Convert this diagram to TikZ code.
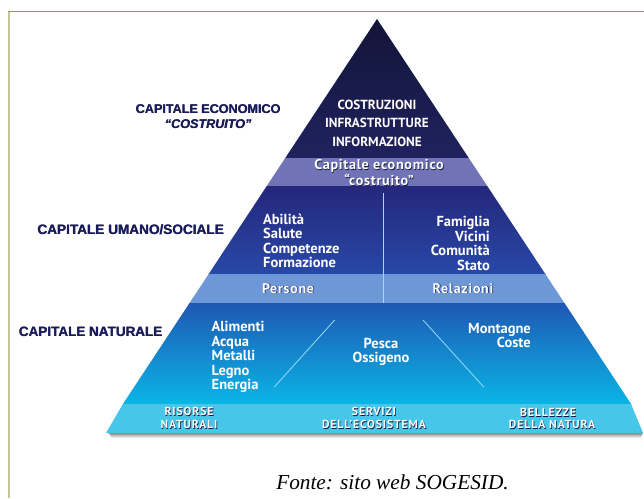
\documentclass[tikz,border=0pt]{standalone}
\usepackage{fontspec}
\setmainfont{Liberation Serif}
\newfontfamily\labelfont{Liberation Sans}
\newfontfamily\pyrfont{PT Sans}
\newfontfamily\pyrspaced[LetterSpace=5]{PT Sans}
\newfontfamily\basefont[LetterSpace=8]{PT Sans}

\definecolor{frameline}{HTML}{9E9760}
\definecolor{frameside}{HTML}{C9C29A}
\definecolor{labelblue}{HTML}{1A1C5A}
\definecolor{topA}{HTML}{121437}
\definecolor{topB}{HTML}{20225F}
\definecolor{bandA}{HTML}{7073B6}
\definecolor{midA}{HTML}{25277A}
\definecolor{midB}{HTML}{2848A8}
\definecolor{bandB}{HTML}{6D97D7}
\definecolor{lowA}{HTML}{1E58B4}
\definecolor{lowB}{HTML}{0AB6E6}
\definecolor{baseband}{HTML}{46C6E9}
\definecolor{embossdark}{HTML}{141A40}
\definecolor{thinline}{HTML}{9ADCF6}

% white text with a small dark drop shadow
\newcommand\embossed[1]{\leavevmode\rlap{\raisebox{-0.7pt}{\hspace{0.7pt}\textcolor{embossdark}{#1}}}#1}
% extra-heavy lettering: the text printed twice, a hair apart
\newcommand\heavy[1]{\leavevmode\rlap{\hspace{0.45pt}#1}#1}

\begin{document}
\begin{tikzpicture}[x=1pt,y=-1pt,
  sidelabel/.style={text=labelblue,inner sep=0pt},
  pyrtext/.style={text=white,inner sep=0pt},
  bandtext/.style={text=white,inner sep=0pt,align=center},
  basetext/.style={text=white,inner sep=0pt,font=\basefont\bfseries\fontsize{11.6}{12}\selectfont},
  divider/.style={draw=thinline,line width=0.8pt}]
\useasboundingbox (0,0) rectangle (644,498);
\fill[white] (0,0) rectangle (644,498);

% page frame
\draw[frameside,line width=2pt] (8.7,11.3) -- (8.7,498);
\draw[frameline,line width=1.3pt] (8,11.3) -- (644,11.3);

% pyramid corners
\coordinate (apex) at (377,19);
\coordinate (bl) at (122.9,404);
\coordinate (br) at (631.1,404);

% shadow under the base band
\shade[top color=black!55,bottom color=white] (108,432) -- (643,432) -- (641,438) -- (112,438) -- cycle;

% pyramid layers
\begin{scope}
  \clip (apex) -- (br) -- (bl) -- cycle;
  \shade[top color=topA,bottom color=topB] (100,15) rectangle (660,158);
  \fill[bandA] (100,158) rectangle (660,186);
  \shade[top color=midA,bottom color=midB] (100,186) rectangle (660,274);
  \fill[bandB] (100,274) rectangle (660,303);
  \shade[top color=lowA,bottom color=lowB] (100,303) rectangle (660,404.5);
\end{scope}

% base band
\fill[baseband] (122.9,404) -- (631.1,404) -- (643,433) -- (106,433) -- cycle;

% dividers
\coordinate (dv1) at (383,192.5);
\coordinate (dv2) at (383,303);
\draw[divider] (dv1) -- (dv2);
\coordinate (dl1) at (334.7,320);
\coordinate (dl2) at (274.3,387);
\coordinate (dr1) at (423,320);
\coordinate (dr2) at (483.8,387);
\draw[divider] (dl1) -- (dl2);
\draw[divider] (dr1) -- (dr2);

% side labels
\node[sidelabel,align=center,font=\labelfont\bfseries\fontsize{12.6}{15}\selectfont] (labecon) at (208,116.5)
  {\heavy{CAPITALE ECONOMICO}\\\itshape\heavy{“COSTRUITO”}};
\node[sidelabel,font=\labelfont\bfseries\fontsize{13.6}{16}\selectfont] (labuman) at (130.5,230) {\heavy{CAPITALE UMANO/SOCIALE}};
\node[sidelabel,font=\labelfont\bfseries\fontsize{13.5}{16}\selectfont] (labnat) at (90.5,332) {\heavy{CAPITALE NATURALE}};

% top layer
\node[pyrtext,align=center,font=\pyrfont\bfseries\fontsize{13.2}{18.5}\selectfont] (costr) at (377,123)
  {COSTRUZIONI\\INFRASTRUTTURE\\INFORMAZIONE};
\node[bandtext,font=\pyrspaced\bfseries\fontsize{14.2}{11.5}\selectfont] (capecon) at (379,173)
  {\embossed{Capitale economico}\\\embossed{“costruito”}};

% human / social layer
\node[pyrtext,align=left,anchor=west,font=\pyrfont\bfseries\fontsize{14.5}{14.5}\selectfont] (abil) at (263,241)
  {Abilità\\Salute\\Competenze\\Formazione};
\node[pyrtext,align=right,anchor=east,font=\pyrfont\bfseries\fontsize{14.5}{14.5}\selectfont] (famil) at (490,243.5)
  {Famiglia\\Vicini\\Comunità\\Stato};
\node[bandtext,font=\pyrspaced\bfseries\fontsize{14}{14}\selectfont] (persone) at (288,288.5) {\embossed{Persone}};
\node[bandtext,font=\pyrspaced\bfseries\fontsize{14}{14}\selectfont] (relaz) at (463,288.5) {\embossed{Relazioni}};

% natural layer
\node[pyrtext,align=left,anchor=west,font=\pyrfont\bfseries\fontsize{14.5}{14.5}\selectfont] (alim) at (211.5,357)
  {Alimenti\\Acqua\\Metalli\\Legno\\Energia};
\node[pyrtext,align=center,font=\pyrfont\bfseries\fontsize{14.5}{14.5}\selectfont] (pesca) at (381,352)
  {Pesca\\Ossigeno};
\node[pyrtext,align=right,anchor=east,font=\pyrfont\bfseries\fontsize{14.5}{14.5}\selectfont] (mont) at (531,335.5)
  {Montagne\\Coste};

% base band: two lines per heading
\node[basetext] (risorseA) at (189,412.2) {\embossed{RISORSE}};
\node[basetext] (risorseB) at (189,424.6) {\embossed{NATURALI}};
\node[basetext] (serviziA) at (374,412.2) {\embossed{SERVIZI}};
\node[basetext] (serviziB) at (374,424.6) {\embossed{DELL’ECOSISTEMA}};
\node[basetext] (bellezzeA) at (548,412.6) {\embossed{BELLEZZE}};
\node[basetext] (bellezzeB) at (552,425) {\embossed{DELLA NATURA}};

% source note
\node[inner sep=0pt,font=\itshape\fontsize{21.3}{24}\selectfont] (fonte) at (392.5,482) {Fonte: sito web SOGESID.};
\end{tikzpicture}
\end{document}
